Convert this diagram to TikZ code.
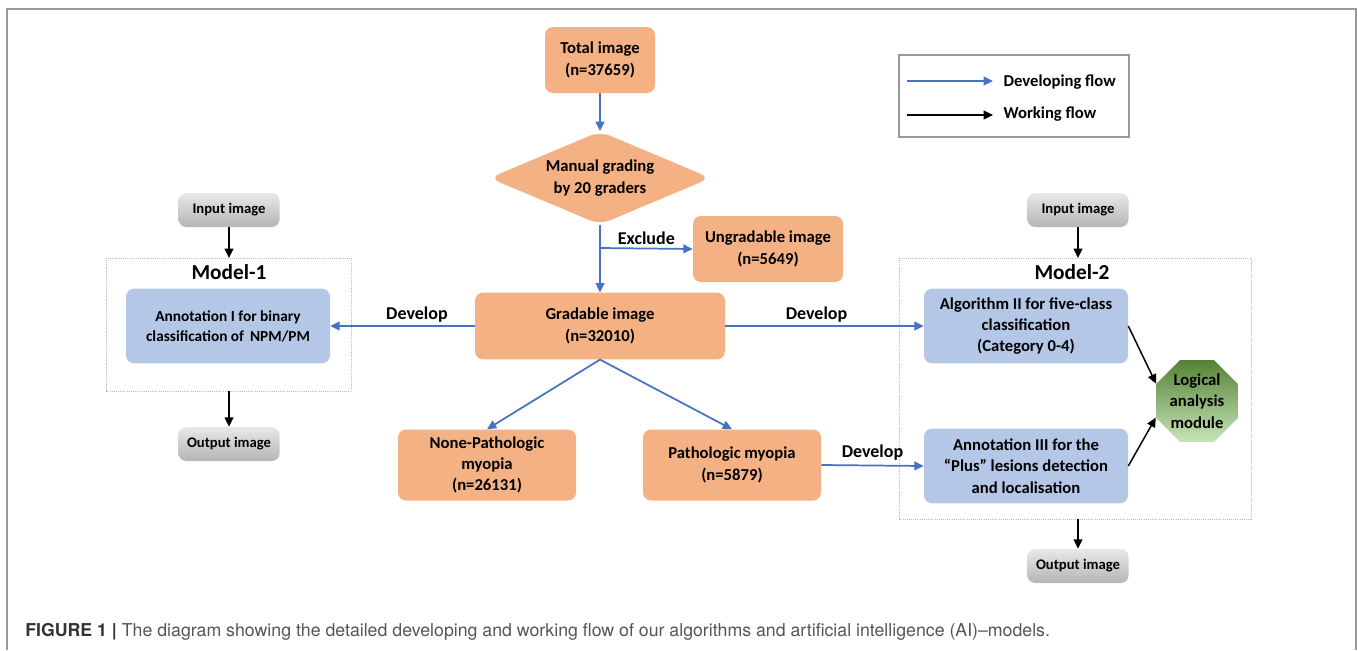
\documentclass[tikz,border=0pt]{standalone}
\usepackage{fontspec}
\setmainfont{Carlito}
\newfontfamily\capfont{TeX Gyre Heros}
\usetikzlibrary{shapes,arrows.meta}
\definecolor{boxorange}{RGB}{244,177,131}
\definecolor{boxblue}{RGB}{180,199,231}
\definecolor{flowblue}{RGB}{68,114,196}
\definecolor{darkgreen}{RGB}{84,130,53}
\definecolor{lightgreen}{RGB}{200,228,184}
\definecolor{capgray}{RGB}{85,85,85}

\begin{document}
\begin{tikzpicture}[x=0.75pt,y=-0.75pt, >={Triangle[length=7pt,width=6.5pt]},
  every node/.style={align=center, inner sep=1pt, font=\fontsize{12.5}{16}\selectfont\bfseries},
  stagebox/.style={rectangle, rounded corners=6pt, fill=boxorange},
  modelbox/.style={rectangle, rounded corners=6pt, fill=boxblue, minimum width=153pt, minimum height=56pt},
  imgbox/.style={rectangle, rounded corners=6pt, top color=gray!18, bottom color=gray!58, minimum width=76pt, minimum height=25.5pt, font=\fontsize{11}{13}\selectfont\bfseries},
  modelframe/.style={draw=gray!55, densely dotted, line width=0.6pt},
  devflow/.style={->, draw=flowblue, fill=flowblue, line width=1.3pt},
  workflow/.style={->, draw=black, line width=1.1pt},
  flowlabel/.style={font=\fontsize{13.5}{16}\selectfont\bfseries}]
\useasboundingbox (0,0) rectangle (1357,650);
\draw[gray!80, line width=0.9pt] (7,650) -- (7,9) -- (1356,9) -- (1356,650);

% grading flow
\node[stagebox, minimum width=82.5pt, minimum height=49.5pt] (total) at (600,60) {Total image\\(n=37659)};
\node[diamond, fill=boxorange, rounded corners=8pt, aspect=2.35, minimum width=166pt, minimum height=70pt, inner sep=0pt] (grading) at (600,178) {Manual grading\\by 20 graders};
\node[stagebox, minimum width=112.5pt, minimum height=49.5pt] (ungradable) at (768,249) {Ungradable image\\(n=5649)};
\node[stagebox, minimum width=187.5pt, minimum height=50pt] (gradable) at (600,326) {Gradable image\\(n=32010)};
\node[stagebox, minimum width=133.5pt, minimum height=53.25pt] (npm) at (487,465) {None-Pathologic\\myopia\\(n=26131)};
\node[stagebox, minimum width=133.5pt, minimum height=53.25pt] (pm) at (732,465) {Pathologic myopia\\(n=5879)};
\coordinate (exclude) at (600,248);

% model 1
\draw[modelframe] (106,258) rectangle (351,391);
\node[font=\fontsize{16}{18}\selectfont\bfseries] (title1) at (229,272) {Model-1};
\node[modelbox, font=\fontsize{11.5}{15}\selectfont\bfseries] (anno1) at (228,326) {Annotation I for binary\\classification of \,NPM/PM};
\node[imgbox] (input1) at (229,210) {Input image};
\node[imgbox] (output1) at (229,444) {Output image};
\coordinate (top1) at (229,258);
\coordinate (bot1) at (229,391);

% model 2
\draw[modelframe] (899,258) rectangle (1251,519);
\node[font=\fontsize{16}{18}\selectfont\bfseries] (title2) at (1072,272) {Model-2};
\node[modelbox] (algo2) at (1026,326) {Algorithm II for five-class\\classification\\(Category 0-4)};
\node[modelbox] (anno3) at (1026,466) {Annotation III for the\\``Plus'' lesions detection\\and localisation};
\node[regular polygon, regular polygon sides=8, minimum size=66.5pt, inner sep=0pt, top color=darkgreen, bottom color=lightgreen] (logic) at (1197,401) {Logical\\analysis\\module};
\node[imgbox] (input2) at (1078,210) {Input image};
\node[imgbox] (output2) at (1078,566) {Output image};
\coordinate (top2) at (1078,258);
\coordinate (bot2) at (1078,519);

% legend
\draw[gray!80, line width=0.8pt] (899,55) rectangle (1129,137);
\coordinate (dev0) at (907,81);
\coordinate (dev1) at (993,81);
\coordinate (work0) at (907,115);
\coordinate (work1) at (993,115);
\node[anchor=west] (devtext) at (1002,82) {Developing flow};
\node[anchor=west] (worktext) at (1002,114) {Working flow};
\draw[devflow] (dev0) -- (dev1);
\draw[workflow] (work0) -- (work1);

% developing flow
\draw[devflow] (total) -- (grading);
\draw[devflow] (grading.south) -- (gradable.north);
\draw[devflow] (exclude) -- (ungradable.west) node[flowlabel, midway, above=1pt] {Exclude};
\draw[devflow] (gradable.west) -- (anno1.east) node[flowlabel, pos=0.4, above=1pt] {Develop};
\draw[devflow] (gradable.east) -- (algo2.west) node[flowlabel, pos=0.46, above=1pt] {Develop};
\draw[devflow] (gradable.south) -- (npm.north);
\draw[devflow] (gradable.south) -- (pm.north);
\draw[devflow] (pm.east) -- (anno3.west) node[flowlabel, midway, above=2pt] {Develop};

% working flow
\draw[workflow] (input1) -- (top1);
\draw[workflow] (bot1) -- (output1);
\draw[workflow] (input2) -- (top2);
\draw[workflow] (bot2) -- (output2);
\draw[workflow] (algo2.east) -- (logic.157.5);
\draw[workflow] (anno3.east) -- (logic.202.5);

\node[anchor=west, font=\capfont\fontsize{13.3}{15}\selectfont, text=capgray, inner sep=0pt] (caption) at (25,632) {{\bfseries\color{black!80}FIGURE 1 |} The diagram showing the detailed developing and working flow of our algorithms and artificial intelligence (AI)\textendash models.};
\end{tikzpicture}
\end{document}
